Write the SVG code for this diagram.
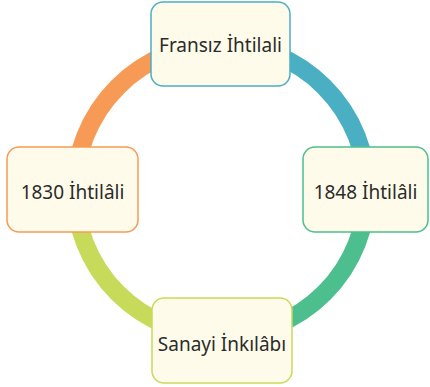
<svg xmlns="http://www.w3.org/2000/svg" width="430" height="387" viewBox="0 0 430 387">
<style>
.arc{fill:none;stroke-width:18}
.box{fill:#FFFBEA;stroke-width:1.5}
.lbl{font-family:"Noto Sans","Liberation Sans",sans-serif;font-size:19px;fill:#2b2b2b;text-anchor:middle}
</style>
<rect width="430" height="387" fill="#ffffff"/>
<g id="connectors">
<path class="arc" stroke="#F79A55" d="M75,190 A146,146 0 0 1 221,44"/>
<path class="arc" stroke="#4BAFC4" d="M221,44 A146,146 0 0 1 367,190"/>
<path class="arc" stroke="#4DBE8E" d="M367,190 A146,146 0 0 1 221,336"/>
<path class="arc" stroke="#C8DA5A" d="M221,336 A146,146 0 0 1 75,190"/>
</g>
<g id="node-fransiz">
<rect class="box" x="151" y="2" width="139" height="84" rx="12" stroke="#4BAFC4"/>
<text class="lbl" x="220.5" y="51.5">Fransız İhtilali</text>
</g>
<g id="node-1848">
<rect class="box" x="303" y="147" width="125" height="85" rx="12" stroke="#4DBE8E"/>
<text class="lbl" x="365.5" y="199">1848 İhtilâli</text>
</g>
<g id="node-sanayi">
<rect class="box" x="152" y="298" width="140" height="85" rx="12" stroke="#C8DA5A"/>
<text class="lbl" x="222" y="351">Sanayi İnkılâbı</text>
</g>
<g id="node-1830">
<rect class="box" x="7" y="147" width="131" height="85" rx="12" stroke="#F79A55"/>
<text class="lbl" x="72.5" y="199">1830 İhtilâli</text>
</g>
</svg>
